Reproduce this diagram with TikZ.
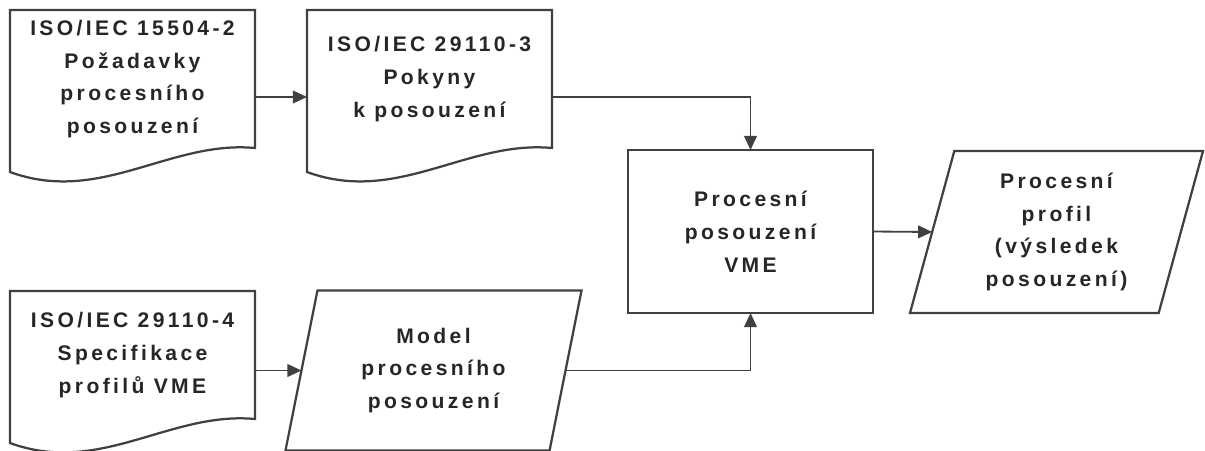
\documentclass[tikz,border=0pt]{standalone}
\usepackage{fontspec}
\setmainfont[LetterSpace=16]{Liberation Sans}
\usetikzlibrary{shapes.geometric,arrows.meta}
\definecolor{linegray}{gray}{0.25}
\definecolor{textgray}{gray}{0.15}
\tikzset{
 every node/.style={font=\bfseries\fontsize{15}{23.4}\selectfont,text=textgray,align=center,inner sep=0pt,outer sep=0pt},
 doc/.style={minimum width=6.125cm,minimum height=3.45cm},
 proc/.style={draw=linegray,line width=1.6pt,minimum width=6.125cm,minimum height=4.075cm},
 data/.style={draw=linegray,line width=1.6pt,trapezium,trapezium left angle=69.5,trapezium right angle=110.5,
   trapezium stretches body,minimum width=7.4cm,minimum height=4cm},
 docline/.style={draw=linegray,line width=1.6pt},
 arr/.style={draw=linegray,line width=1.3pt,-{Triangle[length=10pt,width=9pt]}}
}
\begin{document}
\begin{tikzpicture}
\useasboundingbox (0,0) rectangle (30.125,-11.25);
\node[doc] (iso1) at (3.3125,-1.975) {ISO/IEC 15504-2\\Požadavky\\procesního\\posouzení};
\node[doc] (iso2) at (10.7375,-1.975) {ISO/IEC 29110-3\\Pokyny\\k posouzení};
\node[doc,minimum height=3.2cm] (iso3) at (3.3125,-8.875) {ISO/IEC 29110-4\\Specifikace\\profilů VME};
\node[proc] (proc) at (18.7625,-5.7875) {Procesní\\posouzení\\VME};
\node[data] (model) at (10.8375,-9.2625) {Model\\procesního\\posouzení};
\node[data,minimum width=7.325cm,minimum height=4.05cm] (profil) at (26.4125,-5.8) {Procesní\\profil\\(výsledek\\posouzení)};
% document outlines with wavy bottom
\foreach \d in {iso1,iso2,iso3}
  \draw[docline] (\d.north west) -- (\d.north east) -- (\d.south east)
    .. controls +(-2.125,0.2) and +(2.25,-0.825) .. ([yshift=-0.6cm]\d.south west) -- cycle;
\draw[arr] ([yshift=-0.45cm]iso1.east) -- ([yshift=-0.45cm]iso2.west);
\draw[arr] ([yshift=-0.45cm]iso2.east) -| (proc.north);
\draw[arr] (iso3.east |- model.west) -- (model.west);
\draw[arr] (model.east) -| (proc.south);
\draw[arr] (proc.east) -- (profil.west);
\end{tikzpicture}
\end{document}
